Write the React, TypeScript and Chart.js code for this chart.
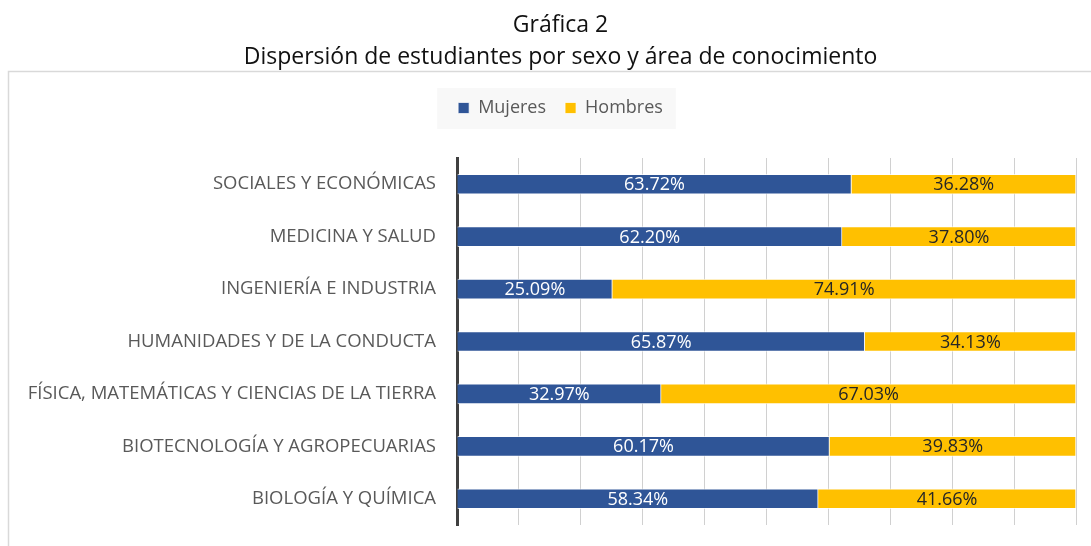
import React, { useEffect, useRef } from 'react';
import { Chart, registerables } from 'chart.js';

Chart.register(...registerables);

const titleLines = ['Gráfica 2', 'Dispersión de estudiantes por sexo y área de conocimiento'];
const categories = [
  'SOCIALES Y ECONÓMICAS',
  'MEDICINA Y SALUD',
  'INGENIERÍA E INDUSTRIA',
  'HUMANIDADES Y DE LA CONDUCTA',
  'FÍSICA, MATEMÁTICAS Y CIENCIAS DE LA TIERRA',
  'BIOTECNOLOGÍA Y AGROPECUARIAS',
  'BIOLOGÍA Y QUÍMICA',
];
const mujeres = [63.72, 62.2, 25.09, 65.87, 32.97, 60.17, 58.34];
const hombres = [36.28, 37.8, 74.91, 34.13, 67.03, 39.83, 41.66];
const seriesNames = ['Mujeres', 'Hombres'];
const seriesColors = ['#2F5597', '#FFC000'];
const labelColors = ['#ffffff', '#262626'];

const FONT = "'Open Sans', sans-serif";

const framePlugin = {
  id: 'frame',
  beforeLayout(chart: any) {
    const lg = chart.legend;
    if (lg && !lg._patched) {
      const orig = lg.fit;
      lg.fit = function () {
        orig.call(this);
        this.height = 78;
      };
      lg._patched = true;
    }
  },
  afterLayout(chart: any) {
    // centre title and legend over the framed region, as in the reference
    if (chart.titleBlock) chart.titleBlock.left = 45;
    if (chart.legend) chart.legend.left = 45;
  },
  beforeDraw(chart: any) {
    const ctx = chart.ctx;
    ctx.save();
    ctx.strokeStyle = '#d9d9d9';
    ctx.lineWidth = 1.5;
    ctx.strokeRect(8.5, 71.5, 1200, 600);
    const lg = chart.legend;
    if (lg && lg.legendHitBoxes && lg.legendHitBoxes.length) {
      const hb = lg.legendHitBoxes;
      const first = hb[0];
      const last = hb[hb.length - 1];
      const x0 = first.left - 21;
      const x1 = last.left + last.width + 13;
      const cy = first.top + first.height / 2;
      ctx.fillStyle = '#f8f8f8';
      ctx.fillRect(x0, cy - 20, x1 - x0, 41);
    }
    ctx.restore();
  },
};

const valueLabelPlugin = {
  id: 'valueLabels',
  afterDatasetsDraw(chart: any) {
    const ctx = chart.ctx;
    ctx.save();
    ctx.font = `400 18px ${FONT}`;
    ctx.textAlign = 'center';
    ctx.textBaseline = 'middle';
    chart.data.datasets.forEach((ds: any, di: number) => {
      const meta = chart.getDatasetMeta(di);
      meta.data.forEach((el: any, i: number) => {
        const { x, base, y } = el.getProps(['x', 'base', 'y'], true);
        ctx.fillStyle = labelColors[di];
        ctx.fillText(ds.data[i].toFixed(2) + '%', (x + base) / 2, y + 1);
      });
    });
    ctx.restore();
  },
};

export default function App() {
  const ref = useRef<HTMLCanvasElement>(null);
  useEffect(() => {
    document.body.style.margin = '0';
    const chart = new Chart(ref.current as HTMLCanvasElement, {
      type: 'bar',
      data: {
        labels: categories,
        datasets: [
          {
            label: seriesNames[0],
            data: mujeres,
            backgroundColor: seriesColors[0],
            borderColor: 'rgba(255,255,255,0.7)',
            borderWidth: 1,
            barThickness: 20,
          },
          {
            label: seriesNames[1],
            data: hombres,
            backgroundColor: seriesColors[1],
            borderColor: 'rgba(255,255,255,0.7)',
            borderWidth: 1,
            barThickness: 20,
          },
        ],
      },
      options: {
        indexAxis: 'y',
        responsive: false,
        animation: false,
        devicePixelRatio: 1,
        layout: { padding: { top: 0, left: 0, right: 15, bottom: 21 } },
        font: { family: FONT },
        plugins: {
          title: {
            display: true,
            text: titleLines,
            color: '#111111',
            font: { family: FONT, size: 23, weight: '400', lineHeight: 32 / 23 },
            padding: { top: 9, bottom: 7 },
          },
          legend: {
            display: true,
            position: 'top',
            labels: {
              boxWidth: 11,
              boxHeight: 11,
              padding: 19,
              color: '#595959',
              font: { family: FONT, size: 18, weight: '400' },
            },
          },
          tooltip: { enabled: false },
        },
        scales: {
          x: {
            stacked: true,
            min: 0,
            max: 100,
            ticks: { display: false, stepSize: 10 },
            grid: { color: '#d0d0d0', lineWidth: 1, drawTicks: false },
            border: { display: false },
          },
          y: {
            stacked: true,
            afterFit: (scale: any) => {
              scale.width = 457;
              scale.paddingTop = 0;
              scale.paddingBottom = 0;
            },
            ticks: {
              color: '#595959',
              padding: 21,
              font: { family: FONT, size: 18.5, weight: '400' },
            },
            grid: { display: false, drawTicks: false },
            border: { display: true, color: '#404040', width: 3 },
          },
        },
      },
      plugins: [framePlugin, valueLabelPlugin],
    } as any);
    return () => chart.destroy();
  }, []);
  return (
    <div style={{ width: 1091, height: 546, position: 'relative', overflow: 'hidden' }}>
      <canvas ref={ref} width={1091} height={546} style={{ display: 'block' }} />
    </div>
  );
}
